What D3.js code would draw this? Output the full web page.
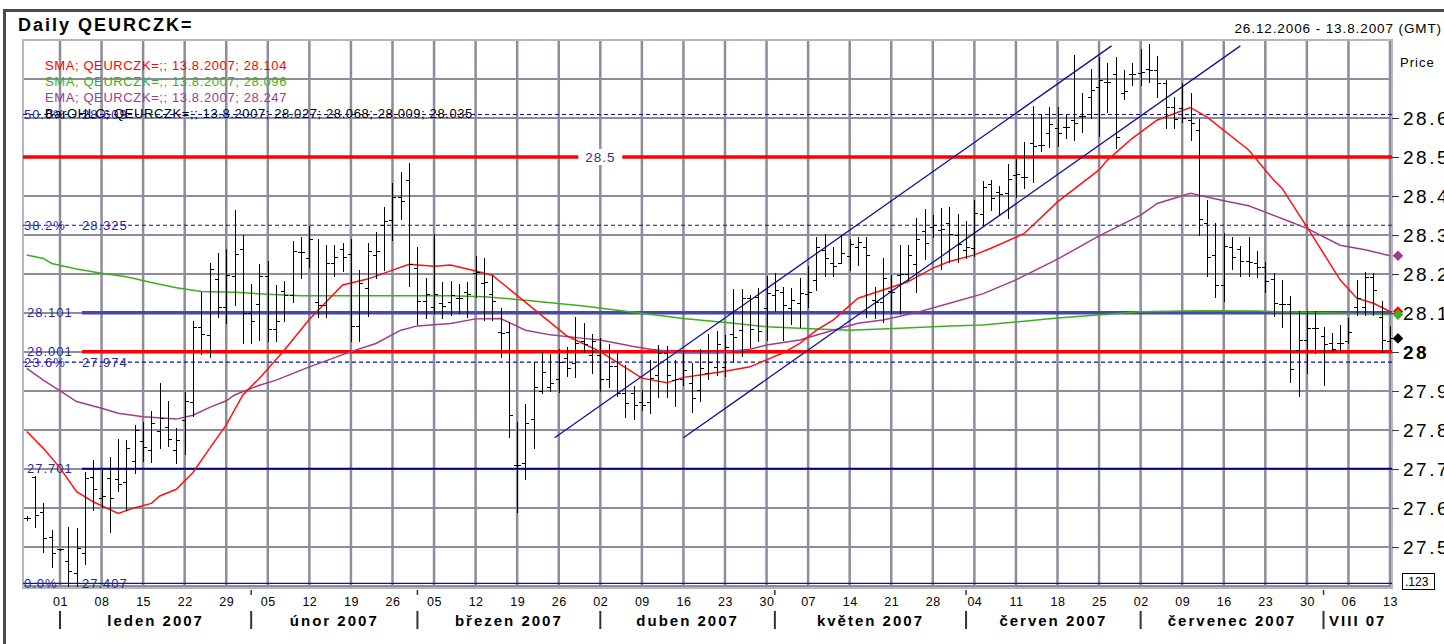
<!DOCTYPE html>
<html>
<head>
<meta charset="utf-8">
<script src="https://cdn.jsdelivr.net/npm/d3@7"></script>
<style>
  body { margin: 0; background: #fff; }
  svg { display: block; font-family: "Liberation Sans", Arial, sans-serif; }
</style>
</head>
<body>
<svg id="chart"></svg>
<script>
// daily bars, one value per trading day from 26.12.2006 to 13.8.2007
var openVals = [27.575,27.680,27.589,27.527,
  27.494,27.464,27.434,27.486,27.679, 27.625,27.676,27.674,27.667,27.721, 27.772,27.749,27.797,27.807,27.749,
  27.826,27.873,28.065,28.044,28.186, 28.116,28.196,28.263,28.101,28.123, 28.196,28.060,28.157,28.145,28.256,
  28.242,28.127,28.121,28.227,28.264, 28.251,28.067,28.165,28.249,28.326, 28.339,28.398,28.441,28.215,28.132,
  28.116,28.125,28.129,28.138,28.153, 28.203,28.178,28.150,28.052,28.052, 27.710,27.715,27.828,27.901,27.910,
  27.930,27.984,27.973,28.027,27.992, 27.992,27.931,27.963,27.894,27.896, 27.873,27.873,27.941,27.997,27.928,
  27.930,27.921,27.903,27.945,27.962, 27.962,28.046,28.056,28.138,28.142, 28.112,28.146,28.155,28.112,28.125,
  28.150,28.185,28.261,28.227,28.229, 28.246,28.268,28.270,28.133,28.129, 28.157,28.197,28.199,28.226,28.311,
  28.320,28.313,28.330,28.300,28.262, 28.266,28.353,28.431,28.411,28.407, 28.454,28.450,28.537,28.531,28.562,
  28.575,28.578,28.595,28.605,28.655, 28.680,28.693,28.713,28.663,28.714, 28.716,28.725,28.723,28.691,28.627,
  28.625,28.595,28.569,28.330,28.249, 28.172,28.268,28.264,28.233,28.229, 28.217,28.187,28.122,28.122,28.005,
  28.030,28.061,28.041,28.022,28.024, 28.029,28.116,28.115,28.193,28.090, 28.027];
var highVals = [27.580,27.682,27.612,27.544,
  27.496,27.552,27.548,27.693,27.723, 27.697,27.732,27.776,27.774,27.813, 27.821,27.849,27.921,27.875,27.804,
  27.898,28.080,28.155,28.227,28.253, 28.263,28.364,28.300,28.174,28.225, 28.233,28.172,28.182,28.285,28.294,
  28.323,28.290,28.275,28.275,28.279, 28.290,28.210,28.280,28.309,28.373, 28.433,28.462,28.484,28.269,28.191,
  28.303,28.180,28.182,28.174,28.180, 28.247,28.240,28.198,28.112,28.078, 27.821,27.867,27.975,28.001,27.995,
  28.007,28.014,28.089,28.075,28.045, 28.035,28.021,27.997,27.967,27.913, 27.903,27.979,28.018,28.015,27.979,
  28.003,27.973,28.007,28.046,28.055, 28.044,28.161,28.161,28.146,28.165, 28.195,28.203,28.168,28.163,28.189,
  28.221,28.296,28.302,28.268,28.300, 28.289,28.296,28.294,28.168,28.240, 28.197,28.274,28.274,28.343,28.366,
  28.351,28.368,28.373,28.354,28.335, 28.390,28.439,28.441,28.426,28.481, 28.494,28.539,28.631,28.608,28.627,
  28.627,28.608,28.762,28.663,28.725, 28.757,28.740,28.757,28.723,28.740, 28.776,28.790,28.759,28.697,28.655,
  28.689,28.665,28.597,28.390,28.332, 28.306,28.294,28.272,28.296,28.260, 28.232,28.202,28.185,28.144,28.104,
  28.104,28.104,28.065,28.050,28.069, 28.087,28.185,28.204,28.202,28.130, 28.068];
var lowVals = [27.570,27.552,27.488,27.448,
  27.492,27.400,27.400,27.456,27.595, 27.603,27.539,27.644,27.595,27.689, 27.721,27.719,27.753,27.760,27.716,
  27.739,27.836,27.995,27.988,28.091, 28.074,28.121,28.022,28.022,28.031, 28.029,28.029,28.080,28.127,28.189,
  28.217,28.089,28.091,28.196,28.209, 28.029,28.028,28.092,28.189,28.210, 28.286,28.340,28.170,28.071,28.086,
  28.101,28.088,28.095,28.099,28.091, 28.142,28.082,28.082,27.988,27.783, 27.591,27.674,27.753,27.894,27.901,
  27.898,27.939,27.937,27.999,27.947, 27.901,27.911,27.886,27.834,27.828, 27.851,27.843,27.885,27.885,27.861,
  27.915,27.847,27.875,27.932,27.941, 27.938,27.975,27.990,28.014,28.027, 28.032,28.106,28.031,28.071,28.065,
  28.116,28.159,28.195,28.195,28.227, 28.210,28.223,28.089,28.086,28.078, 28.099,28.099,28.185,28.155,28.238,
  28.294,28.212,28.232,28.232,28.240, 28.245,28.326,28.364,28.351,28.343, 28.398,28.420,28.437,28.516,28.525,
  28.527,28.548,28.544,28.565,28.599, 28.554,28.616,28.522,28.650,28.685, 28.685,28.693,28.655,28.574,28.574,
  28.591,28.544,28.300,28.195,28.140, 28.132,28.212,28.195,28.195,28.192, 28.155,28.092,28.065,27.924,27.886,
  27.945,27.997,27.915,28.005,28.005, 28.022,28.095,28.095,28.095,28.001, 28.009];
var closeVals = [27.575,27.582,27.522,27.486,
  27.494,27.438,27.497,27.676,27.648, 27.632,27.627,27.661,27.753,27.800, 27.757,27.817,27.830,27.776,27.774,
  27.875,28.065,28.045,28.212,28.116, 28.197,28.251,28.101,28.080,28.196, 28.058,28.080,28.145,28.260,28.256,
  28.290,28.121,28.227,28.244,28.244, 28.067,28.178,28.260,28.260,28.337, 28.398,28.386,28.225,28.132,28.150,
  28.150,28.118,28.146,28.138,28.150, 28.204,28.180,28.132,28.050,27.839, 27.710,27.817,27.911,27.950,27.920,
  27.975,27.958,28.024,28.020,28.029, 27.930,27.964,27.894,27.870,27.864, 27.864,27.933,27.997,27.941,27.930,
  27.954,27.883,27.958,27.975,28.020, 28.012,28.039,28.138,28.058,28.055, 28.152,28.159,28.120,28.133,28.152,
  28.155,28.268,28.240,28.221,28.253, 28.277,28.283,28.249,28.129,28.191, 28.155,28.200,28.249,28.289,28.280,
  28.326,28.315,28.302,28.277,28.268, 28.357,28.424,28.396,28.405,28.443, 28.456,28.450,28.528,28.531,28.585,
  28.561,28.578,28.586,28.605,28.672, 28.697,28.693,28.552,28.669,28.713, 28.719,28.723,28.691,28.629,28.597,
  28.599,28.588,28.340,28.243,28.172, 28.272,28.243,28.233,28.230,28.217, 28.183,28.125,28.123,27.956,28.030,
  28.061,28.061,28.021,28.008,28.023, 28.052,28.138,28.193,28.159,28.030, 28.035];

// moving averages: [trading day index, value]
var smaFast = [[0,27.796],[2,27.753],[4,27.703],[6,27.642],[8,27.616],[11,27.586],[13,27.601],[15,27.612],
  [16,27.631],[18,27.648],[20,27.691],[22,27.753],[24,27.813],[26,27.890],[28,27.933],[31,28.005],[34,28.084],
  [38,28.172],[41,28.187],[44,28.210],[46,28.225],[49,28.220],[51,28.223],[54,28.208],[56,28.197],[65,28.041],
  [69,28.001],[74,27.933],[77,27.921],[79,27.935],[81,27.941],[84,27.951],[87,27.962],[89,27.980],[91,27.998],
  [93,28.022],[95,28.056],[97,28.082],[100,28.138],[103,28.159],[106,28.180],[109,28.215],[111,28.232],
  [114,28.249],[116,28.266],[120,28.304],[124,28.385],[129,28.467],[130,28.492],[133,28.548],[136,28.595],
  [140,28.627],[142,28.602],[147,28.518],[150,28.441],[151,28.420],[154,28.321],[158,28.185],[160,28.138],
  [162,28.125],[164,28.104]];
var smaSlow = [[0,28.249],[2,28.240],[3,28.227],[6,28.213],[9,28.202],[12,28.193],[15,28.178],[18,28.165],
  [21,28.155],[25,28.153],[29,28.148],[33,28.144],[39,28.144],[45,28.144],[51,28.144],[55,28.142],[60,28.133],
  [67,28.118],[73,28.102],[79,28.086],[85,28.074],[89,28.065],[95,28.059],[99,28.056],[105,28.061],[111,28.067],
  [115,28.069],[124,28.087],[134,28.103],[141,28.106],[148,28.105],[156,28.101],[164,28.096]];
var emaVals = [[0,27.958],[2,27.928],[6,27.873],[9,27.856],[11,27.843],[14,27.834],[18,27.828],[20,27.838],
  [22,27.858],[24,27.875],[25,27.890],[28,27.915],[30,27.928],[34,27.962],[39,28.001],[42,28.022],[45,28.056],
  [47,28.067],[51,28.073],[54,28.085],[57,28.086],[60,28.056],[63,28.044],[67,28.035],[69,28.031],[73,28.014],
  [75,28.007],[79,27.998],[83,27.998],[87,28.007],[89,28.018],[93,28.031],[97,28.056],[100,28.074],[103,28.082],
  [107,28.101],[111,28.125],[115,28.149],[119,28.185],[124,28.238],[126,28.262],[129,28.298],[134,28.351],
  [136,28.381],[140,28.407],[144,28.388],[147,28.375],[152,28.334],[154,28.317],[158,28.274],[161,28.262],
  [164,28.247]];

// trend channel: [trading day index, price] at each end
var channelUpper = [[63.5,27.78],[130.5,28.785]];
var channelLower = [[79,27.78],[146,28.785]];

// fibonacci retracement and drawn levels
var fibPct = ["50.0%","38.2%","23.6%","0.0%"];
var fibVals = [28.609, 28.325, 27.974, 27.407];
var levelVals = [28.5, 28.101, 28.001, 27.701];
var levelNames = ["28.5", "28.101", "28.001", "27.701"];

var priceTicks = [27.5,27.6,27.7,27.8,27.9,28.0,28.1,28.2,28.3,28.4,28.5,28.6];
var monthLabels = ["leden 2007","únor 2007","březen 2007","duben 2007","květen 2007","červen 2007","červenec 2007","VIII 07"];

var legendText = ["SMA; QEURCZK=;; 13.8.2007; 28.104","SMA; QEURCZK=;; 13.8.2007; 28.096",
  "EMA; QEURCZK=;; 13.8.2007; 28.247","BarOHLC; QEURCZK=;; 13.8.2007; 28.027; 28.068; 28.009; 28.035"];
var legendColor = ["#ff0000","#3cb01c","#a03c8c","#000000"];
var lastVals = [28.247, 28.104, 28.096, 28.035];
var lastColor = ["#a03c8c","#ff0000","#3cb01c","#000000"];

// trading calendar (Mon-Fri) for the bars
var dates = [];
var dd = new Date(2006, 11, 26);
while (dates.length < openVals.length) {
  if (dd.getDay() !== 0 && dd.getDay() !== 6) dates.push(new Date(dd));
  dd.setDate(dd.getDate() + 1);
}
var mondays = [], monthStarts = [];
dates.forEach(function(d, i) {
  if (d.getDay() === 1) mondays.push(i);
  if (i > 0 && d.getMonth() !== dates[i-1].getMonth()) monthStarts.push(i);
});

var width = 1444, height = 644;
var plotL = 23, plotR = 1392, plotT = 40, plotB = 588;

var x = d3.scaleLinear().domain([-0.45, 164.24]).range([plotL, plotR]);
var y = d3.scaleLinear().domain([27.395, 28.8]).range([plotB, plotT]);

var svg = d3.select("#chart").attr("width", width).attr("height", height);
svg.append("rect").attr("width", width).attr("height", height).attr("fill", "#fff");

// outer frame
svg.append("rect")
  .attr("x", 4.5).attr("y", 10.5).attr("width", width + 20).attr("height", height + 20)
  .attr("fill", "none").attr("stroke", "#4a4a4a").attr("stroke-width", 3);

svg.append("text").attr("x", 18).attr("y", 31)
  .attr("font-size", 18).attr("font-weight", "bold").attr("letter-spacing", "2px").text("Daily QEURCZK=");
svg.append("text").attr("x", 1442).attr("y", 33).attr("text-anchor", "end")
  .attr("font-size", 13.5).attr("letter-spacing", "0.9px").text("26.12.2006 - 13.8.2007 (GMT)");
svg.append("text").attr("x", 1400).attr("y", 67).attr("font-size", 13).attr("letter-spacing", "1px").text("Price");

// grid
var grid = svg.append("g");
grid.selectAll(".hgrid").data(y.ticks(15)).enter().append("line").attr("class", "hgrid")
  .attr("x1", plotL).attr("x2", plotR)
  .attr("y1", function(d) { return y(d); }).attr("y2", function(d) { return y(d); })
  .attr("stroke", "#8c8c9c").attr("stroke-width", 2);
grid.selectAll(".vgrid").data(mondays).enter().append("line").attr("class", "vgrid")
  .attr("x1", function(d) { return x(d); }).attr("x2", function(d) { return x(d); })
  .attr("y1", plotT).attr("y2", plotB)
  .attr("stroke", "#8c8c9c").attr("stroke-width", 2.5);
grid.append("rect").attr("x", plotL).attr("y", plotT).attr("width", plotR - plotL).attr("height", plotB - plotT)
  .attr("fill", "none").attr("stroke", "#b4b4c4").attr("stroke-width", 2);

// fibonacci lines
var fib = svg.append("g").attr("font-size", 13).attr("fill", "#2828a0").attr("letter-spacing", "1px");
fibVals.forEach(function(v, k) {
  fib.append("line").attr("x1", plotL).attr("x2", plotR).attr("y1", y(v)).attr("y2", y(v))
    .attr("stroke", "#1010a0").attr("stroke-width", 1.2)
    .attr("stroke-dasharray", fibPct[k] === "0.0%" ? null : "4,3");
  fib.append("text").attr("x", 24).attr("y", y(v)).attr("dy", "0.35em").text(fibPct[k]);
  fib.append("text").attr("x", 82).attr("y", y(v)).attr("dy", "0.35em").text(v.toFixed(3));
});

// level lines
var lev = svg.append("g").attr("font-size", 13).attr("fill", "#2828a0").attr("letter-spacing", "1px");
levelVals.forEach(function(v, k) {
  var col = (v === 28.5 || v === 28.001) ? "#ff0000" : (v === 28.101 ? "#4848a8" : "#000080");
  var sw = col === "#000080" ? 2 : 3.5;
  var x0 = v === 28.5 ? plotL : 82;
  lev.append("line").attr("x1", x0).attr("x2", plotR).attr("y1", y(v)).attr("y2", y(v))
    .attr("stroke", col).attr("stroke-width", sw);
  if (v === 28.5) {
    lev.append("rect").attr("x", x(69) - 22).attr("y", y(v) - 8).attr("width", 44).attr("height", 16).attr("fill", "#fff");
    lev.append("text").attr("x", x(69)).attr("y", y(v)).attr("dy", "0.35em").attr("text-anchor", "middle")
      .attr("font-size", 13.5).attr("fill", "#303090").text(levelNames[k]);
  } else {
    lev.append("text").attr("x", 27).attr("y", y(v)).attr("dy", "0.3em").text(levelNames[k]);
  }
});

// moving averages
var line = d3.line().x(function(d) { return x(d[0]); }).y(function(d) { return y(d[1]); });
svg.append("path").datum(smaSlow).attr("d", line).attr("fill", "none").attr("stroke", "#3cb01c").attr("stroke-width", 1.5);
svg.append("path").datum(emaVals).attr("d", line).attr("fill", "none").attr("stroke", "#a03c8c").attr("stroke-width", 1.5);
svg.append("path").datum(smaFast).attr("d", line).attr("fill", "none").attr("stroke", "#ff1010").attr("stroke-width", 1.5);

// channel
[channelUpper, channelLower].forEach(function(c) {
  svg.append("path").datum(c).attr("d", line).attr("fill", "none").attr("stroke", "#10109a").attr("stroke-width", 1.3);
});

// OHLC bars
var bars = svg.append("g").attr("stroke", "#000").attr("stroke-width", 1).attr("shape-rendering", "crispEdges");
var bar = bars.selectAll("g").data(openVals).enter().append("g");
bar.append("line")
  .attr("x1", function(d, i) { return Math.round(x(i)) + 0.5; })
  .attr("x2", function(d, i) { return Math.round(x(i)) + 0.5; })
  .attr("y1", function(d, i) { return y(highVals[i]); })
  .attr("y2", function(d, i) { return y(lowVals[i]) + 1; });
bar.append("line")
  .attr("x1", function(d, i) { return Math.round(x(i)) - 3; })
  .attr("x2", function(d, i) { return Math.round(x(i)); })
  .attr("y1", function(d) { return Math.round(y(d)) + 0.5; })
  .attr("y2", function(d) { return Math.round(y(d)) + 0.5; });
bar.append("line")
  .attr("x1", function(d, i) { return Math.round(x(i)) + 1; })
  .attr("x2", function(d, i) { return Math.round(x(i)) + 4; })
  .attr("y1", function(d, i) { return Math.round(y(closeVals[i])) + 0.5; })
  .attr("y2", function(d, i) { return Math.round(y(closeVals[i])) + 0.5; });

// legend
legendText.forEach(function(t, k) {
  svg.append("text").attr("x", 45).attr("y", 69.5 + k * 16)
    .attr("font-size", 13).attr("letter-spacing", "0.6px").attr("fill", legendColor[k]).text(t);
});

// right axis
var yAxis = svg.append("g").attr("transform", "translate(" + plotR + ",0)")
  .call(d3.axisRight(y).tickValues(priceTicks).tickSize(7).tickPadding(4)
    .tickFormat(function(d) { return d === 28 ? "28" : d3.format(".1f")(d); }));
yAxis.select(".domain").remove();
yAxis.selectAll("line").attr("stroke", "#333");
yAxis.selectAll("text").attr("font-size", 19).attr("fill", "#000").attr("letter-spacing", "2.5px")
  .attr("font-family", "Liberation Sans, Arial, sans-serif")
  .attr("font-weight", function(d) { return d === 28 ? "bold" : null; });

// last-value markers
var diamond = d3.symbol().type(d3.symbolSquare).size(56);
lastVals.forEach(function(v, k) {
  svg.append("path").attr("d", diamond)
    .attr("transform", "translate(" + (plotR + 6) + "," + y(v) + ") rotate(45)")
    .attr("fill", lastColor[k]);
});

// small boxed label at the bottom of the price scale
svg.append("rect").attr("x", 1402.5).attr("y", 573.5).attr("width", 32).attr("height", 16)
  .attr("fill", "#fff").attr("stroke", "#000");
svg.append("text").attr("x", 1405).attr("y", 586).attr("font-size", 12).text(".123");

// bottom axis: day of Monday
var xAxis = svg.append("g").attr("transform", "translate(0," + plotB + ")")
  .call(d3.axisBottom(x).tickValues(mondays).tickSize(0).tickPadding(9)
    .tickFormat(function(i) { return d3.timeFormat("%d")(dates[i]); }));
xAxis.select(".domain").remove();
xAxis.selectAll("text").attr("font-size", 12.5).attr("fill", "#000").attr("letter-spacing", "0.5px")
  .attr("font-family", "Liberation Sans, Arial, sans-serif");

// month marks
svg.append("g").selectAll("line").data(monthStarts.filter(function(i) { return dates[i].getDay() !== 1; }))
  .enter().append("line")
  .attr("x1", function(i) { return x(i); }).attr("x2", function(i) { return x(i); })
  .attr("y1", plotB + 2).attr("y2", plotB + 7).attr("stroke", "#333").attr("stroke-width", 1.5);

var seps = monthStarts;
svg.append("g").selectAll("line").data(seps).enter().append("line")
  .attr("x1", function(i) { return x(i); }).attr("x2", function(i) { return x(i); })
  .attr("y1", 611).attr("y2", 629).attr("stroke", "#333").attr("stroke-width", 2);

svg.append("g").selectAll("text").data(monthLabels).enter().append("text")
  .attr("x", function(t, k) {
    var a = x(seps[k]);
    var b = k + 1 < seps.length ? x(seps[k + 1]) : plotR;
    return (a + b) / 2;
  })
  .attr("y", 626).attr("text-anchor", "middle")
  .attr("font-size", 15).attr("font-weight", "bold").attr("letter-spacing", "2px")
  .text(function(t) { return t; });
</script>
</body>
</html>
